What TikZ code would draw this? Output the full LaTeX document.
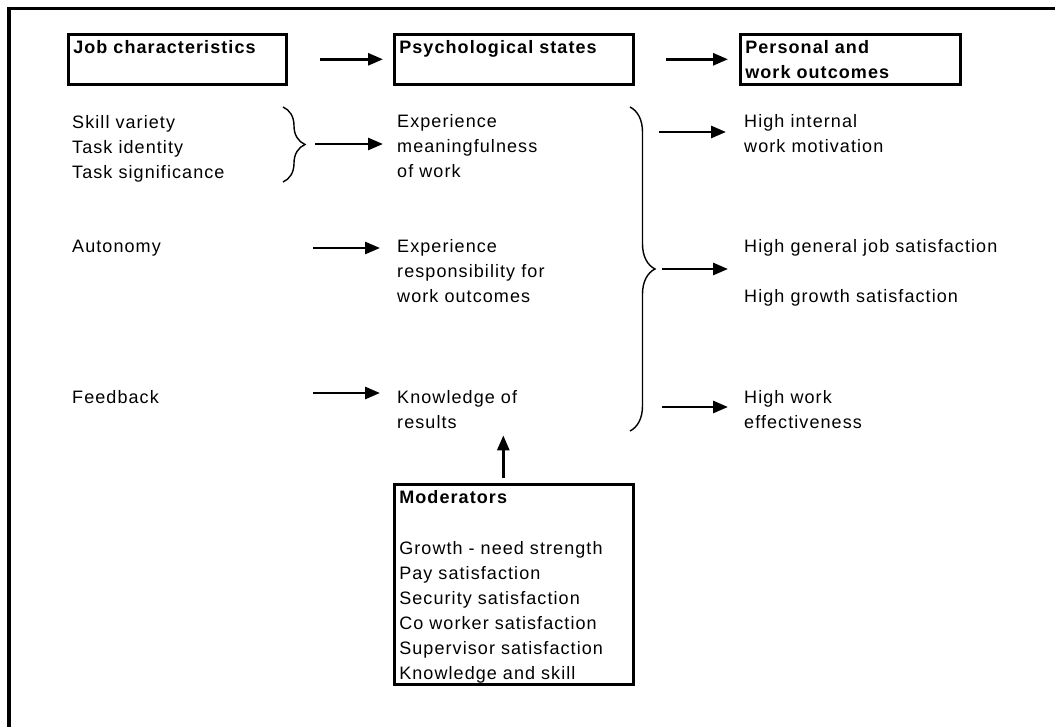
\documentclass[tikz,border=0pt]{standalone}
\usepackage{fontspec}
\setmainfont{Liberation Sans}[LetterSpace=6]
\usetikzlibrary{arrows.meta,positioning,decorations.pathreplacing}

\begin{document}
\begin{tikzpicture}[x=1pt, y=-1pt,
    every node/.style={font=\fontsize{18}{25}\selectfont},
    txt/.style={anchor=base west, inner sep=0pt, align=left},
    box/.style={draw, line width=2.6pt, anchor=north west, inner xsep=5pt, inner ysep=0pt, align=left, text height=19pt, text depth=31pt},
    flow/.style={-{Triangle[length=15pt,width=12pt]}, line width=2.8pt},
    curly/.style={decorate, decoration={brace, amplitude=#1}, line width=1.4pt}
]
    \useasboundingbox (0,0) rectangle (1055,727);

    % Frame
    \draw[line width=3.3pt] (9,727) -- (9,8.5) -- (1055,8.5);

    % Header boxes
    \node[box, text width=208pt] (jobbox) at (67,33) {\bfseries Job characteristics};
    \node[box, text width=229pt] (psybox) at (393,33) {\bfseries Psychological states};
    \node[box, text width=210pt] (outbox) at (739,33) {\bfseries Personal and\\ work outcomes};

    % Job characteristics (placed at baseline of last line)
    \node[txt] (skills) at (72,179) {Skill variety\\Task identity\\Task significance};
    \node[txt] (autonomy) at (72,253) {Autonomy};
    \node[txt] (feedback) at (72,403) {Feedback};

    % Psychological states
    \node[txt] (meaning) at (397,178) {Experience\\meaningfulness\\of work};
    \node[txt] (respons) at (397,303) {Experience\\responsibility for\\work outcomes};
    \node[txt] (knowledge) at (397,428) {Knowledge of\\results};

    % Outcomes
    \node[txt] (motivation) at (744,153) {High internal\\work motivation};
    \node[txt] (jobsat) at (744,253) {High general job satisfaction};
    \node[txt] (growthsat) at (744,303) {High growth satisfaction};
    \node[txt] (effective) at (744,428) {High work\\effectiveness};

    % Moderators
    \node[box, text width=229pt, text depth=181pt] (modbox) at (393,483)
        {\textbf{Moderators}\\[26pt]
         Growth - need strength\\
         Pay satisfaction\\
         Security satisfaction\\
         Co worker satisfaction\\
         Supervisor satisfaction\\
         Knowledge and skill};

    % Braces
    \draw[curly=22pt] (283,107) -- (283,182);
    \coordinate (tipA) at (305,144);
    \draw[curly=25pt] (630,107) -- (630,431);
    \coordinate (tipB) at (655,269);

    % Arrow tails
    \coordinate (autoarr) at (313,248);
    \coordinate (feedarr) at (313,393);
    \coordinate (motarr) at (659,132);
    \coordinate (effarr) at (662,407);

    % Arrows
    \draw[flow, shorten <=32pt, shorten >=10pt] (jobbox) -- (psybox);
    \draw[flow, shorten <=31pt, shorten >=11pt] (psybox) -- (outbox);
    \draw[flow, shorten <=10pt, shorten >=14pt] (tipA) -- (tipA -| meaning.west);
    \draw[flow, shorten >=17pt] (autoarr) -- (autoarr -| respons.west);
    \draw[flow, shorten >=17pt] (feedarr) -- (feedarr -| knowledge.west);
    \draw[flow, shorten >=18pt] (motarr) -- (motarr -| motivation.west);
    \draw[flow, shorten <=7pt, shorten >=16pt] (tipB) -- (tipB -| jobsat.west);
    \draw[flow, shorten >=16pt] (effarr) -- (effarr -| effective.west);
    \draw[flow, shorten <=5pt, shorten >=7pt] ([xshift=-10.5pt]modbox.north) -- ([xshift=-10.5pt]modbox.north |- knowledge.south);
\end{tikzpicture}
\end{document}
